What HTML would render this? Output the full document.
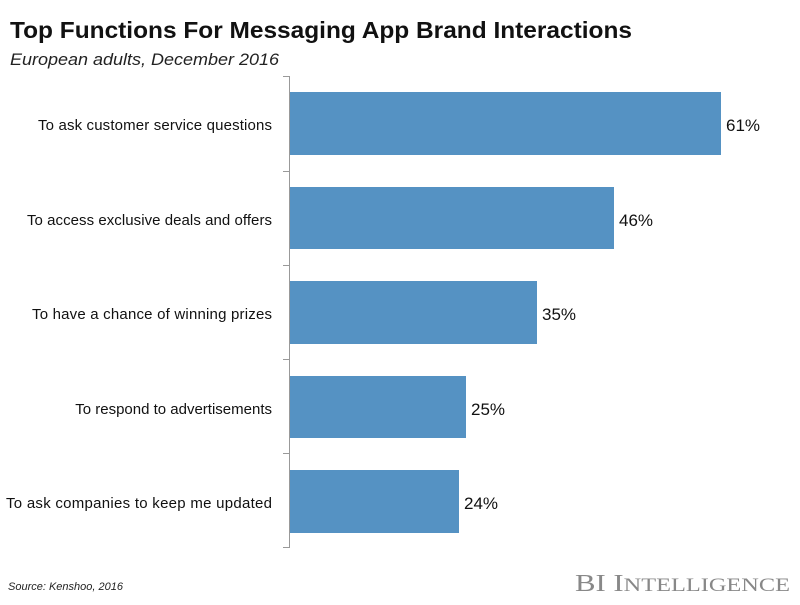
<!DOCTYPE html>
<html><head><meta charset="utf-8"><style>
body{margin:0;width:800px;height:600px;background:#fff;overflow:hidden;font-family:"Liberation Sans",sans-serif}
</style></head><body>
<svg width="800" height="600" xmlns="http://www.w3.org/2000/svg" font-family="Liberation Sans, sans-serif">
<text x="10" y="38" font-size="23" font-weight="bold" fill="#111" textLength="622" lengthAdjust="spacingAndGlyphs">Top Functions For Messaging App Brand Interactions</text>
<text x="10" y="65" font-size="17" font-style="italic" fill="#222" textLength="269" lengthAdjust="spacingAndGlyphs">European adults, December 2016</text>
<g stroke="#999" stroke-width="1">
<line x1="289.5" y1="76" x2="289.5" y2="548"/>
<line x1="283" y1="76.5" x2="289" y2="76.5"/>
<line x1="283" y1="171.5" x2="289" y2="171.5"/>
<line x1="283" y1="265.5" x2="289" y2="265.5"/>
<line x1="283" y1="359.5" x2="289" y2="359.5"/>
<line x1="283" y1="453.5" x2="289" y2="453.5"/>
<line x1="283" y1="547.5" x2="289" y2="547.5"/>
</g>
<g fill="#5592c3">
<rect x="290" y="92" width="431" height="63"/>
<rect x="290" y="187" width="324" height="62"/>
<rect x="290" y="281" width="247" height="63"/>
<rect x="290" y="376" width="176" height="62"/>
<rect x="290" y="470" width="169" height="63"/>
</g>
<g font-size="15" fill="#111" lengthAdjust="spacingAndGlyphs">
<text x="38" y="130" textLength="234">To ask customer service questions</text>
<text x="27" y="225" textLength="245">To access exclusive deals and offers</text>
<text x="32" y="319" textLength="240">To have a chance of winning prizes</text>
<text x="272" y="414" text-anchor="end">To respond to advertisements</text>
<text x="6" y="508" textLength="266">To ask companies to keep me updated</text>
</g>
<g font-size="17" fill="#111">
<text x="726" y="131">61%</text>
<text x="619" y="226">46%</text>
<text x="542" y="320">35%</text>
<text x="471" y="415">25%</text>
<text x="464" y="509">24%</text>
</g>
<text x="8" y="590" font-size="11" font-style="italic" fill="#222">Source: Kenshoo, 2016</text>
<text x="575" y="591" font-size="24" fill="#888" font-family="Liberation Serif, serif" textLength="215" lengthAdjust="spacingAndGlyphs">BI I<tspan font-size="19">NTELLIGENCE</tspan></text>
</svg>
</body></html>
